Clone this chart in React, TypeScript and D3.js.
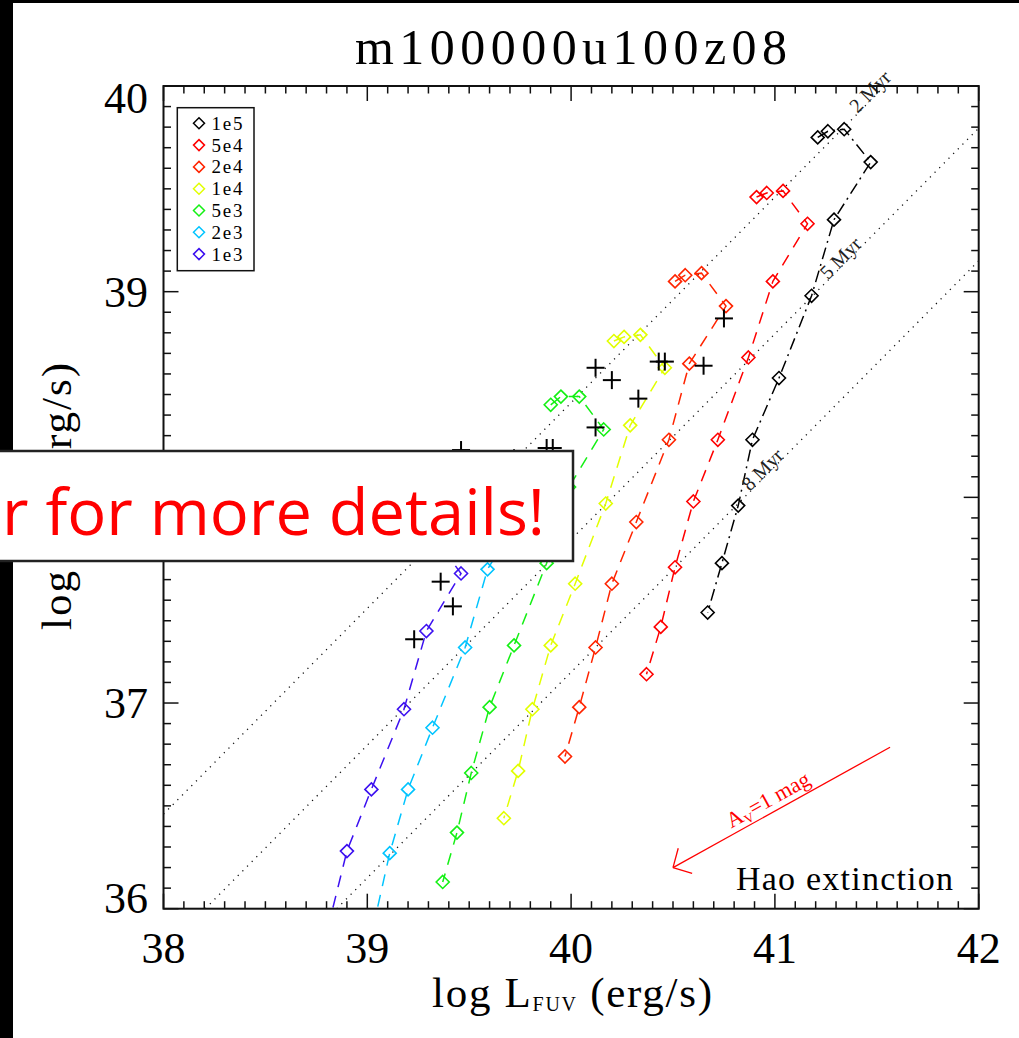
import React, { useEffect, useRef } from 'react';
import * as d3 from 'd3';

// cluster mass tracks: log L_FUV and log L_Halpha per age step
const masses = ['1e5', '5e4', '2e4', '1e4', '5e3', '2e3', '1e3'];
const colors = ['#000000', '#ff0000', '#ff2400', '#e2ff00', '#14f014', '#00c4ff', '#3c10f0'];

const fuv1e5 = [41.21, 41.26, 41.34, 41.47, 41.29, 41.18, 41.02, 40.89, 40.82, 40.74, 40.67];
const ha1e5 = [39.75, 39.78, 39.79, 39.63, 39.35, 38.98, 38.58, 38.28, 37.96, 37.68, 37.44];
const fuv5e4 = [40.91, 40.96, 41.04, 41.16, 40.99, 40.87, 40.72, 40.60, 40.51, 40.44, 40.37];
const ha5e4 = [39.46, 39.48, 39.49, 39.33, 39.05, 38.68, 38.28, 37.98, 37.66, 37.37, 37.14];
const fuv2e4 = [40.51, 40.56, 40.64, 40.76, 40.58, 40.48, 40.32, 40.20, 40.12, 40.04, 39.97];
const ha2e4 = [39.05, 39.08, 39.09, 38.93, 38.65, 38.28, 37.88, 37.58, 37.27, 36.98, 36.74];
const fuv1e4 = [40.21, 40.26, 40.34, 40.46, 40.29, 40.17, 40.02, 39.90, 39.81, 39.74, 39.67];
const ha1e4 = [38.76, 38.78, 38.79, 38.63, 38.35, 37.97, 37.58, 37.28, 36.97, 36.67, 36.44];
const fuv5e3 = [39.90, 39.95, 40.04, 40.16, 39.99, 39.88, 39.72, 39.60, 39.51, 39.44, 39.37];
const ha5e3 = [38.45, 38.49, 38.49, 38.33, 38.05, 37.68, 37.28, 36.98, 36.66, 36.37, 36.13];
const fuv2e3 = [39.50, 39.55, 39.64, 39.76, 39.59, 39.48, 39.32, 39.20, 39.11, 39.04];
const ha2e3 = [38.05, 38.09, 38.09, 37.93, 37.65, 37.27, 36.88, 36.58, 36.27, 35.96];
const fuv1e3 = [39.20, 39.25, 39.34, 39.46, 39.29, 39.18, 39.02, 38.90, 38.82];
const ha1e3 = [37.75, 37.79, 37.79, 37.63, 37.35, 36.97, 36.58, 36.28, 35.96];

// observed clusters (crosses)
const obsFuv = [39.23, 39.36, 39.42, 39.46, 39.72, 39.88, 39.91, 40.12, 40.20, 40.33, 40.12, 40.43, 40.46, 40.65, 40.75];
const obsHa = [37.31, 37.59, 37.47, 38.23, 38.19, 38.24, 38.24, 38.63, 38.57, 38.48, 38.34, 38.66, 38.66, 38.64, 38.87];

// isochrones
const isoLabels = ['2 Myr', '5 Myr', '8 Myr'];
const isoFuv0 = [38, 38.205, 38.85];
const isoHa0 = [36.46, 36, 36];
const isoFuv1 = [41.54, 42, 42];
const isoHa1 = [40, 39.795, 39.15];
const isoLabelFuv = [41.405, 41.26, 40.877];
const isoLabelHa = [39.865, 39.055, 38.027];

// extinction vector (A_V = 1 mag)
const avFrom = [41.565, 36.785];
const avTo = [40.50, 36.20];

const xTicks = [38, 39, 40, 41, 42];
const yTicks = [36, 37, 38, 39, 40];

const serif = '"Liberation Serif", "Times New Roman", serif';

export default function App() {
  const ref = useRef<SVGSVGElement>(null);

  useEffect(() => {
    const svg = d3.select(ref.current);
    svg.selectAll('*').remove();

    const left = 163.5, right = 978.7, top = 86, bottom = 908.7;
    const x = d3.scaleLinear().domain([38, 42]).range([left, right]);
    const y = d3.scaleLinear().domain([36, 40]).range([bottom, top]);

    svg.append('rect').attr('width', 1019).attr('height', 1038).attr('fill', '#fff');
    svg.append('rect').attr('x', 0).attr('y', 0).attr('width', 13).attr('height', 1038).attr('fill', '#000');
    svg.append('rect').attr('x', 0).attr('y', 0).attr('width', 1019).attr('height', 3).attr('fill', '#000');

    svg.append('defs').append('clipPath').attr('id', 'plotclip')
      .append('rect').attr('x', left).attr('y', top).attr('width', right - left).attr('height', bottom - top);

    const plot = svg.append('g').attr('clip-path', 'url(#plotclip)');

    // isochrones
    isoLabels.forEach((lab, i) => {
      plot.append('line')
        .attr('x1', x(isoFuv0[i])).attr('y1', y(isoHa0[i]))
        .attr('x2', x(isoFuv1[i])).attr('y2', y(isoHa1[i]))
        .attr('stroke', '#111').attr('stroke-width', 1.3)
        .attr('stroke-dasharray', '1.2,5.4');
    });

    const series = [
      [fuv1e5, ha1e5], [fuv5e4, ha5e4], [fuv2e4, ha2e4], [fuv1e4, ha1e4],
      [fuv5e3, ha5e3], [fuv2e3, ha2e3], [fuv1e3, ha1e3],
    ].map(([fx, hy], i) => ({
      name: masses[i], color: colors[i],
      pts: fx.map((v, j) => [v, hy[j]] as [number, number]),
    }));

    const line = d3.line<[number, number]>().x(d => x(d[0])).y(d => y(d[1]));
    const diamond = 'M0,-6.5L6.5,0L0,6.5L-6.5,0Z';

    series.forEach((s, i) => {
      plot.append('path')
        .attr('d', line(s.pts))
        .attr('fill', 'none')
        .attr('stroke', s.color)
        .attr('stroke-width', 1.5)
        .attr('stroke-dasharray', i === 0 ? '12,5,2,5' : '12,9');
      plot.selectAll(null)
        .data(s.pts)
        .enter()
        .append('path')
        .attr('d', diamond)
        .attr('transform', d => `translate(${x(d[0])},${y(d[1])})`)
        .attr('fill', 'none')
        .attr('stroke', s.color)
        .attr('stroke-width', 1.6);
    });

    // observed crosses
    const obs = obsFuv.map((v, i) => [v, obsHa[i]]);
    const cross = plot.selectAll(null).data(obs).enter().append('g')
      .attr('transform', d => `translate(${x(d[0])},${y(d[1])})`);
    cross.append('line').attr('x1', -9).attr('x2', 9).attr('y1', 0).attr('y2', 0)
      .attr('stroke', '#000').attr('stroke-width', 2);
    cross.append('line').attr('x1', 0).attr('x2', 0).attr('y1', -9).attr('y2', 9)
      .attr('stroke', '#000').attr('stroke-width', 2);

    // isochrone labels
    const isoAngle = Math.atan2(y(37) - y(36), x(39) - x(38)) * 180 / Math.PI;
    isoLabels.forEach((lab, i) => {
      svg.append('text')
        .attr('transform', `translate(${x(isoLabelFuv[i])},${y(isoLabelHa[i])}) rotate(${isoAngle})`)
        .attr('font-family', serif).attr('font-size', 20).attr('fill', '#222')
        .text(lab);
    });

    // extinction arrow
    const tip = [x(avTo[0]), y(avTo[1])];
    const st = [x(avFrom[0]), y(avFrom[1])];
    const ang = Math.atan2(st[1] - tip[1], st[0] - tip[0]);
    svg.append('line')
      .attr('x1', st[0]).attr('y1', st[1]).attr('x2', tip[0]).attr('y2', tip[1])
      .attr('stroke', '#ff0000').attr('stroke-width', 1.3);
    [-0.8, 0.8].forEach(da => {
      svg.append('line')
        .attr('x1', tip[0]).attr('y1', tip[1])
        .attr('x2', tip[0] + 20 * Math.cos(ang + da)).attr('y2', tip[1] + 20 * Math.sin(ang + da))
        .attr('stroke', '#ff0000').attr('stroke-width', 1.3);
    });
    const ux = Math.cos(ang), uy = Math.sin(ang);
    const lx = tip[0] + 70 * ux + 6 * uy;
    const ly = tip[1] + 70 * uy - 6 * ux;
    const av = svg.append('text')
      .attr('transform', `translate(${lx},${ly}) rotate(${ang * 180 / Math.PI})`)
      .attr('font-family', serif).attr('font-size', 22).attr('fill', '#ff0000');
    av.append('tspan').text('A');
    av.append('tspan').attr('font-size', 13).attr('dy', 4).text('V');
    av.append('tspan').attr('dy', -4).text('=1 mag');

    svg.append('text')
      .attr('x', 953).attr('y', 890).attr('text-anchor', 'end')
      .attr('font-family', serif).attr('font-size', 34)
      .attr('textLength', 217).attr('lengthAdjust', 'spacing')
      .text('Hao extinction');

    // frame and ticks
    svg.append('rect')
      .attr('x', left).attr('y', top).attr('width', right - left).attr('height', bottom - top)
      .attr('fill', 'none').attr('stroke', '#111').attr('stroke-width', 2);

    const ticks = svg.append('g').attr('stroke', '#111').attr('stroke-width', 1.5);
    d3.range(0, 41).forEach(k => {
      const v = 38 + k * 0.1;
      const len = k % 10 === 0 ? 15 : 7.5;
      ticks.append('line').attr('x1', x(v)).attr('x2', x(v)).attr('y1', bottom).attr('y2', bottom - len);
      ticks.append('line').attr('x1', x(v)).attr('x2', x(v)).attr('y1', top).attr('y2', top + len);
      const w = 36 + k * 0.1;
      ticks.append('line').attr('y1', y(w)).attr('y2', y(w)).attr('x1', left).attr('x2', left + len);
      ticks.append('line').attr('y1', y(w)).attr('y2', y(w)).attr('x1', right).attr('x2', right - len);
    });

    xTicks.forEach(v => {
      svg.append('text')
        .attr('x', x(v)).attr('y', 963).attr('text-anchor', 'middle')
        .attr('font-family', serif).attr('font-size', 44)
        .text(String(v));
    });
    // the 38 label sits under the note box, so it is not drawn
    yTicks.filter(v => v !== 38).forEach(v => {
      const shift = v === 40 ? 12 : v === 36 ? -11 : 0;
      svg.append('text')
        .attr('x', 148).attr('y', y(v) + shift + 15).attr('text-anchor', 'end')
        .attr('font-family', serif).attr('font-size', 44)
        .text(String(v));
    });

    // axis titles
    const xt = svg.append('text')
      .attr('x', 432).attr('y', 1007)
      .attr('font-family', serif).attr('font-size', 43)
      .attr('textLength', 280).attr('lengthAdjust', 'spacing');
    xt.append('tspan').text('log L');
    xt.append('tspan').attr('font-size', 20).attr('dy', 4).text('FUV');
    xt.append('tspan').attr('dy', -4).text(' (erg/s)');

    const yt = svg.append('text')
      .attr('transform', 'translate(71,630) rotate(-90)')
      .attr('font-family', serif).attr('font-size', 43)
      .attr('textLength', 267).attr('lengthAdjust', 'spacing');
    yt.append('tspan').text('log L');
    yt.append('tspan').attr('font-size', 20).attr('dy', 4).text('Hα');
    yt.append('tspan').attr('dy', -4).text(' (erg/s)');

    svg.append('text')
      .attr('x', 571).attr('y', 64).attr('text-anchor', 'middle')
      .attr('font-family', serif).attr('font-size', 50)
      .attr('textLength', 432).attr('lengthAdjust', 'spacing')
      .text('m100000u100z08');

    // legend
    const lg = svg.append('g');
    lg.append('rect').attr('x', 177.3).attr('y', 107.7).attr('width', 76.7).attr('height', 163)
      .attr('fill', '#fff').attr('stroke', '#111').attr('stroke-width', 1.5);
    masses.forEach((m, i) => {
      const ry = 123.3 + i * 21.8;
      lg.append('path').attr('d', 'M0,-5.5L5.5,0L0,5.5L-5.5,0Z')
        .attr('transform', `translate(199,${ry})`)
        .attr('fill', 'none').attr('stroke', colors[i]).attr('stroke-width', 1.5);
      lg.append('text').attr('x', 211.5).attr('y', ry + 6.5)
        .attr('font-family', serif).attr('font-size', 19)
        .attr('textLength', 31).attr('lengthAdjust', 'spacing')
        .text(m);
    });

    // overlay note box
    svg.append('rect').attr('x', -3).attr('y', 451).attr('width', 576).attr('height', 110)
      .attr('fill', '#fff').attr('stroke', '#222').attr('stroke-width', 2.5);
    svg.append('text')
      .attr('x', 545).attr('y', 535).attr('text-anchor', 'end')
      .attr('font-family', '"Open Sans", "Noto Sans", sans-serif').attr('font-size', 64)
      .attr('fill', '#ff0000')
      .attr('textLength', 543).attr('lengthAdjust', 'spacingAndGlyphs')
      .text('r for more details!');
  }, []);

  return (
    <svg ref={ref} width={1019} height={1038}
      style={{ position: 'absolute', left: 0, top: 0, display: 'block' }} />
  );
}
